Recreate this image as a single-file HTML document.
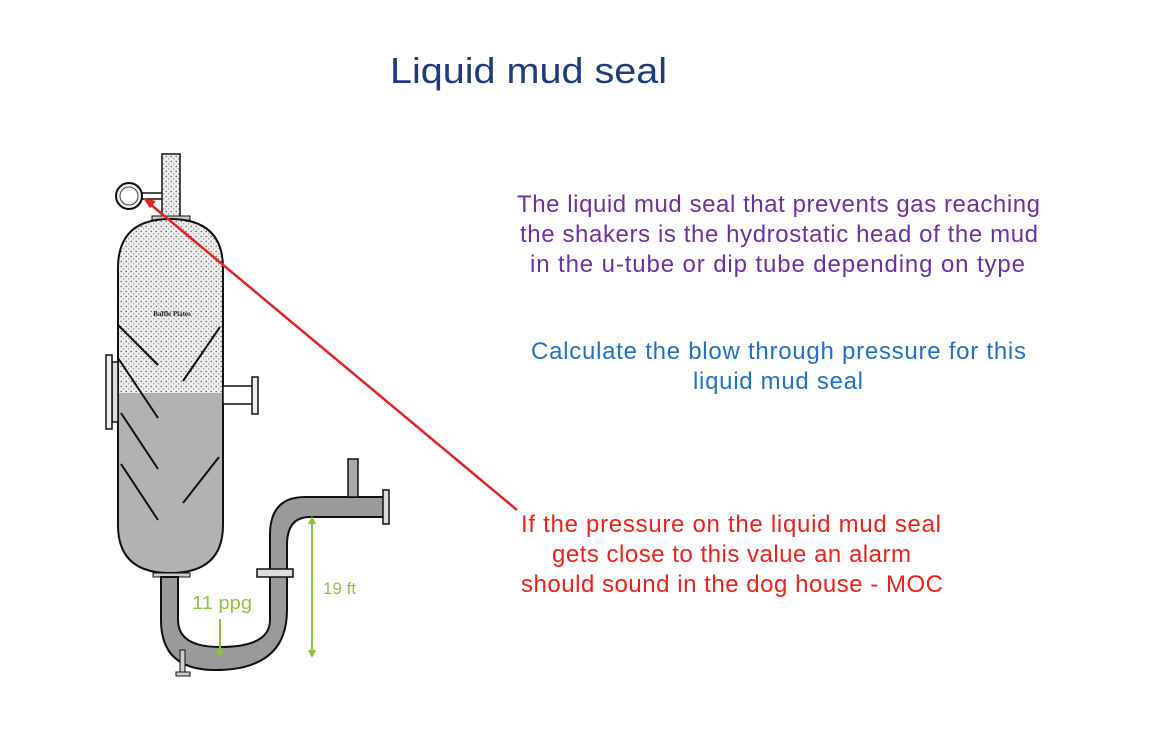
<!DOCTYPE html>
<html><head><meta charset="utf-8"><style>
html,body{margin:0;padding:0;background:#fff;}
svg{display:block;font-family:"Liberation Sans",sans-serif;}
</style></head><body>
<svg width="1160" height="730" viewBox="0 0 1160 730" xmlns="http://www.w3.org/2000/svg">
<defs>
<pattern id="dots" width="5" height="5" patternUnits="userSpaceOnUse">
<rect width="5" height="5" fill="#eeeeee"/>
<circle cx="1.2" cy="1.5" r="0.7" fill="#555"/><circle cx="3.7" cy="3.9" r="0.6" fill="#777"/>
</pattern>
<clipPath id="vc"><path d="M118,268 Q118,219 170,219 Q223,219 223,268 L223,525 Q223,573 170,573 Q118,573 118,525 Z"/></clipPath>
</defs>
<rect width="1160" height="730" fill="#fff"/>
<text x="390" y="83" font-size="36" fill="#1f3b80" textLength="277" lengthAdjust="spacingAndGlyphs">Liquid mud seal</text>

<rect x="162" y="154" width="18" height="66" fill="url(#dots)" stroke="#111" stroke-width="1.5"/>
<line x1="142" y1="193" x2="162" y2="193" stroke="#111" stroke-width="1.5"/>
<line x1="142" y1="199" x2="162" y2="199" stroke="#111" stroke-width="1.5"/>
<circle cx="129" cy="196" r="13" fill="#eee" stroke="#111" stroke-width="2"/>
<circle cx="129" cy="196" r="9" fill="#fff" stroke="#444" stroke-width="1"/>
<rect x="152" y="216" width="38" height="4" fill="#ccc" stroke="#111"/>

<g clip-path="url(#vc)">
<rect x="110" y="210" width="120" height="183" fill="url(#dots)"/>
<rect x="110" y="393" width="120" height="190" fill="#b2b2b2"/>
</g>
<path d="M118,268 Q118,219 170,219 Q223,219 223,268 L223,525 Q223,573 170,573 Q118,573 118,525 Z" fill="none" stroke="#111" stroke-width="2"/>
<text x="172" y="316" font-size="7" font-family="Liberation Serif,serif" font-weight="bold" text-anchor="middle" fill="#222">Baffle Plates</text>
<g stroke="#111" stroke-width="2">
<line x1="118" y1="325" x2="158" y2="365"/>
<line x1="220" y1="327" x2="183" y2="381"/>
<line x1="118" y1="358" x2="158" y2="418"/>
<line x1="121" y1="413" x2="158" y2="469"/>
<line x1="219" y1="457" x2="183" y2="503"/>
<line x1="121" y1="464" x2="158" y2="520"/>
</g>
<rect x="112" y="362" width="6" height="60" fill="#ddd" stroke="#111" stroke-width="1.5"/>
<rect x="106" y="355" width="6" height="74" fill="#eee" stroke="#111" stroke-width="1.5"/>
<rect x="223" y="386" width="30" height="18" fill="#fff" stroke="#111" stroke-width="1.5"/>
<rect x="252" y="377" width="6" height="37" fill="#eee" stroke="#111" stroke-width="1.5"/>
<rect x="153" y="573" width="37" height="4" fill="#ccc" stroke="#111"/>

<path d="M161,577 L161,620 Q161,670 215,670 Q287,670 287,610 L287,545 Q287,517 310,517 L385,517 L385,497 L305,497 Q270,497 270,535 L270,620 Q270,647 220,647 Q178,647 178,620 L178,577 Z" fill="#9a9a9a" stroke="#111" stroke-width="2"/>
<rect x="348" y="459" width="10" height="38" fill="#aaa" stroke="#111" stroke-width="1.5"/>
<rect x="383" y="490" width="6" height="34" fill="#ddd" stroke="#111" stroke-width="1.5"/>
<rect x="257" y="569" width="36" height="8" fill="#ddd" stroke="#111" stroke-width="1.5"/>
<rect x="180" y="650" width="5" height="22" fill="#ccc" stroke="#111"/>
<rect x="176" y="672" width="14" height="4" fill="#ccc" stroke="#111"/>

<g stroke="#8cc63f" stroke-width="2" fill="#8cc63f">
<line x1="312" y1="522" x2="312" y2="652"/>
<path d="M308,524 L312,516 L316,524 Z" stroke="none"/>
<path d="M308,650 L312,658 L316,650 Z" stroke="none"/>
<line x1="220" y1="619" x2="220" y2="652"/>
<path d="M216,650 L220,658 L224,650 Z" stroke="none"/>
</g>
<text x="323" y="594" font-size="17" fill="#8cc63f">19 ft</text>
<text x="192" y="609" font-size="18" fill="#8cc63f" textLength="60" lengthAdjust="spacingAndGlyphs">11 ppg</text>

<line x1="150" y1="204" x2="517" y2="510" stroke="#e8231e" stroke-width="2.5"/>
<path d="M143,198 L156,201 L150,208 Z" fill="#e8231e"/>

<g font-size="24" lengthAdjust="spacingAndGlyphs">
<text x="517" y="212" fill="#7030a0" textLength="523">The liquid mud seal that prevents gas reaching</text>
<text x="520" y="242" fill="#7030a0" textLength="518">the shakers is the hydrostatic head of the mud</text>
<text x="530" y="272" fill="#7030a0" textLength="495">in the u-tube or dip tube depending on type</text>
<text x="531" y="359" fill="#1e73c8" textLength="495">Calculate the blow through pressure for this</text>
<text x="693" y="389" fill="#1e73c8" textLength="170">liquid mud seal</text>
<text x="521" y="532" fill="#f0201a" textLength="420">If the pressure on the liquid mud seal</text>
<text x="552" y="562" fill="#f0201a" textLength="359">gets close to this value an alarm</text>
<text x="521" y="592" fill="#f0201a" textLength="422">should sound in the dog house - MOC</text>
</g>
</svg>
</body></html>
